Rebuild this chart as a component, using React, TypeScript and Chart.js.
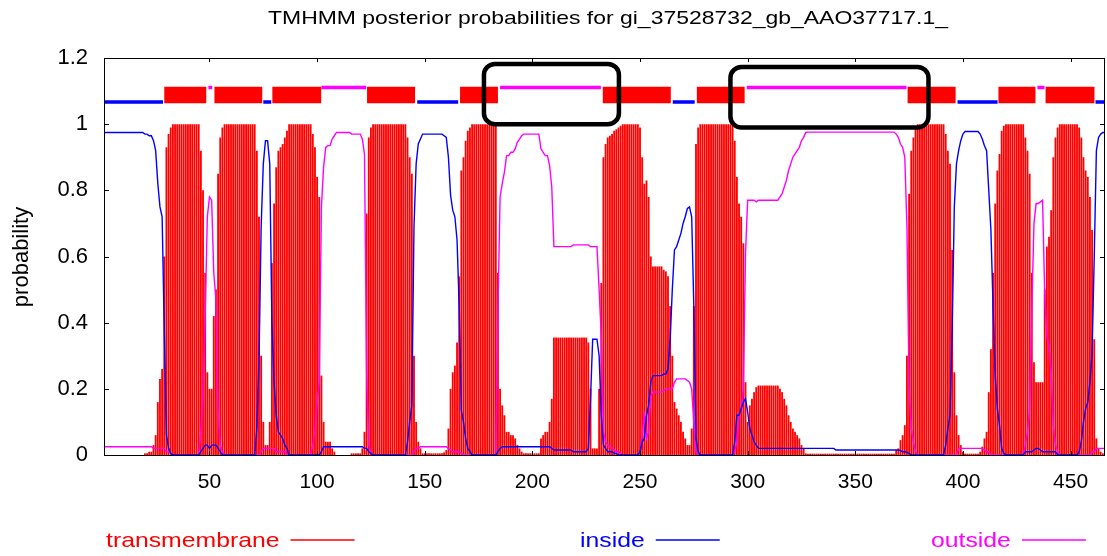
import React, { useEffect, useRef } from "react";
import { Chart, registerables } from "chart.js";

Chart.register(...registerables);

const TITLE = "TMHMM posterior probabilities for gi_37528732_gb_AAO37717.1_";
const Y_LABEL = "probability";
const SEQ_START = 1;
const SEQ_END = 466;

// posterior probability per residue (1..466)
const transmembrane = [
  0, 0, 0, 0, 0, 0, 0, 0, 0, 0, 0, 0, 0, 0, 0, 0, 0, 0, 0,
  0.005, 0.005, 0.01, 0.01, 0.03, 0.06, 0.16, 0.23, 0.26, 0.6, 0.93, 0.97, 0.99,
  1, 1, 1, 1, 1, 1, 1, 1, 1, 1, 1, 1, 1,
  0.92, 0.8, 0.55, 0.25, 0.2, 0.2, 0.42, 0.5, 0.85, 0.96, 0.99,
  1, 1, 1, 1, 1, 1, 1, 1, 1, 1, 1, 1, 1, 1, 1,
  0.92, 0.72, 0.3, 0.1, 0.03, 0.03, 0.1, 0.58, 0.76, 0.87, 0.92, 0.93, 0.94, 0.96, 0.98, 1,
  1, 1, 1, 1, 1, 1, 1, 1, 1, 1,
  0.97, 0.93, 0.84, 0.78, 0.24, 0.1, 0.04, 0.04, 0.04, 0.02, 0.01,
  0, 0, 0, 0, 0, 0, 0,
  0.005, 0.005, 0.005, 0.005, 0.005,
  0.02, 0.07, 0.73, 0.96, 0.99,
  1, 1, 1, 1, 1, 1, 1, 1, 1, 1, 1, 1, 1, 1, 1, 1,
  0.96, 0.9, 0.85, 0.3, 0.1, 0.04, 0.02,
  0.005, 0.005, 0.005, 0.005, 0.005, 0.005, 0.005, 0.005, 0.005, 0.005,
  0.008, 0.015, 0.08, 0.2, 0.25, 0.27, 0.34, 0.54, 0.86, 0.9, 0.95, 0.98, 0.99,
  1, 1, 1, 1, 1, 1, 1, 1, 1, 1, 1, 1,
  0.55, 0.2, 0.15, 0.12, 0.07, 0.07, 0.06, 0.06, 0.05, 0.03, 0.02, 0.01,
  0.005, 0.005, 0.005, 0.005, 0.005, 0.005, 0.005, 0.005,
  0.05, 0.06, 0.07, 0.07, 0.1, 0.17,
  0.355, 0.355, 0.355, 0.355, 0.355, 0.355, 0.355, 0.355, 0.355, 0.355, 0.355, 0.355, 0.355, 0.355, 0.355, 0.355,
  0.34, 0.2, 0.02, 0.02, 0.02, 0.2, 0.52, 0.9, 0.94, 0.96, 0.965, 0.97, 0.98, 0.985, 0.99, 0.995,
  1, 1, 1, 1, 1, 1, 1, 1,
  0.99, 0.9, 0.82, 0.83, 0.78, 0.6, 0.57, 0.57, 0.57, 0.57, 0.57, 0.56, 0.555, 0.54, 0.45, 0.3, 0.16, 0.14, 0.12, 0.1, 0.07, 0.05, 0.03, 0.03, 0.08, 0.45, 0.94, 0.99,
  1, 1, 1, 1, 1, 1, 1, 1, 1, 1, 1, 1, 1, 1, 1, 1,
  0.95, 0.84, 0.76, 0.72, 0.64, 0.22, 0.1, 0.15, 0.17, 0.19, 0.205,
  0.21, 0.21, 0.21, 0.21, 0.21, 0.21, 0.21, 0.21, 0.21, 0.21,
  0.2, 0.19, 0.17, 0.15, 0.12, 0.1, 0.08, 0.07, 0.06, 0.05, 0.03, 0.02, 0.005,
  0.004, 0.004, 0.004, 0.004, 0.004, 0.004, 0.004, 0.004, 0.004, 0.004,
  0.004, 0.004, 0.004, 0.004, 0.004, 0.004, 0.004, 0.004, 0.004, 0.004,
  0.004, 0.004, 0.004, 0.004, 0.004, 0.004, 0.004, 0.004, 0.004, 0.004,
  0.004, 0.004, 0.004, 0.004, 0.004, 0.004, 0.004, 0.004, 0.004, 0.004, 0.004,
  0.015, 0.02, 0.045, 0.06, 0.09, 0.3, 0.79, 0.92, 0.96, 0.99,
  1, 1, 1, 1, 1, 1, 1, 1, 1, 1, 1, 1, 1,
  0.97, 0.92, 0.88, 0.62, 0.25, 0.12, 0.06, 0.03, 0.01,
  0.004, 0.004, 0.004, 0.004, 0.004, 0.004, 0.004,
  0.01, 0.025, 0.05, 0.07, 0.19, 0.32, 0.55, 0.76, 0.86, 0.91, 0.98, 0.995,
  1, 1, 1, 1, 1, 1, 1, 1, 1,
  0.96, 0.92, 0.85, 0.55, 0.28, 0.22, 0.22, 0.22, 0.22, 0.5, 0.63, 0.66, 0.74, 0.9, 0.96, 0.99,
  1, 1, 1, 1, 1, 1, 1, 1, 1,
  0.99, 0.96, 0.9, 0.86, 0.84, 0.78, 0.68, 0.35, 0.05, 0.02, 0.01, 0.005, 0.005,
];

const inside = [
  0.975, 0.975, 0.975, 0.975, 0.975, 0.975, 0.975, 0.975, 0.975, 0.975, 0.975, 0.975, 0.975, 0.975, 0.975, 0.975, 0.975, 0.975, 0.975,
  0.97, 0.97, 0.965, 0.965, 0.95, 0.92, 0.82, 0.75, 0.72, 0.38, 0.06, 0.02, 0.005,
  0, 0, 0, 0, 0, 0, 0, 0, 0, 0, 0, 0, 0,
  0.01, 0.02, 0.03, 0.03, 0.02, 0.03, 0.03, 0.03, 0.02, 0.01, 0,
  0, 0, 0, 0, 0, 0, 0, 0, 0, 0, 0, 0, 0, 0, 0,
  0.08, 0.28, 0.69, 0.88, 0.95, 0.95, 0.88, 0.4, 0.22, 0.12, 0.07, 0.06, 0.05, 0.03, 0.02, 0,
  0, 0, 0, 0, 0, 0, 0, 0, 0, 0,
  0, 0, 0, 0, 0.01, 0.025, 0.025, 0.025, 0.025, 0.025, 0.025,
  0.025, 0.025, 0.025, 0.025, 0.025, 0.025, 0.025,
  0.025, 0.025, 0.025, 0.025, 0.025,
  0.025, 0.02, 0.02, 0.01, 0.005,
  0, 0, 0, 0, 0, 0, 0, 0, 0, 0, 0, 0, 0, 0, 0, 0,
  0.04, 0.1, 0.15, 0.69, 0.88, 0.94, 0.955,
  0.97, 0.97, 0.97, 0.97, 0.97, 0.97, 0.97, 0.97, 0.97, 0.97,
  0.965, 0.96, 0.9, 0.785, 0.74, 0.72, 0.65, 0.45, 0.135, 0.1, 0.05, 0.02, 0.01,
  0, 0, 0, 0, 0, 0, 0, 0, 0, 0, 0, 0,
  0.01, 0.02, 0.025, 0.025, 0.025, 0.025, 0.025, 0.025, 0.025, 0.025, 0.025, 0.025,
  0.025, 0.025, 0.025, 0.025, 0.025, 0.025, 0.025, 0.025,
  0.025, 0.025, 0.025, 0.025, 0.025, 0.02,
  0.015, 0.015, 0.015, 0.015, 0.015, 0.015, 0.015, 0.015, 0.015, 0.01, 0.01, 0.01, 0.01, 0.01, 0.01, 0.01,
  0.02, 0.17, 0.35, 0.35, 0.35, 0.3, 0.12, 0.03, 0.02, 0.01, 0.01, 0.01, 0.005, 0.005, 0, 0,
  0, 0, 0, 0, 0, 0, 0, 0,
  0.01, 0.04, 0.05, 0.12, 0.15, 0.22, 0.24, 0.24, 0.24, 0.24, 0.24, 0.245, 0.245, 0.26, 0.35, 0.5, 0.62, 0.63, 0.65, 0.67, 0.7, 0.72, 0.745, 0.75, 0.72, 0.45, 0.05, 0.01,
  0, 0, 0, 0, 0, 0, 0, 0, 0, 0, 0, 0, 0, 0, 0, 0,
  0.04, 0.12, 0.12, 0.14, 0.16, 0.17, 0.13, 0.08, 0.06, 0.04, 0.03,
  0.02, 0.02, 0.02, 0.02, 0.02, 0.02, 0.02, 0.02, 0.02, 0.02,
  0.02, 0.02, 0.02, 0.02, 0.02, 0.02, 0.02, 0.02, 0.02, 0.02, 0.02, 0.02, 0.02,
  0.02, 0.02, 0.02, 0.02, 0.02, 0.02, 0.02, 0.02, 0.02, 0.02,
  0.02, 0.02, 0.02, 0.015, 0.015, 0.015, 0.015, 0.015, 0.015, 0.015,
  0.015, 0.015, 0.015, 0.015, 0.015, 0.015, 0.015, 0.015, 0.015, 0.015,
  0.015, 0.015, 0.015, 0.015, 0.015, 0.015, 0.015, 0.015, 0.015, 0.015, 0.015,
  0.015, 0.015, 0.013, 0.01, 0.01, 0.008, 0.005, 0, 0, 0,
  0, 0, 0, 0, 0, 0, 0, 0, 0, 0, 0, 0, 0,
  0.03, 0.08, 0.12, 0.38, 0.75, 0.88, 0.92, 0.95, 0.97,
  0.978, 0.978, 0.978, 0.978, 0.978, 0.978, 0.978,
  0.97, 0.955, 0.935, 0.92, 0.8, 0.68, 0.45, 0.24, 0.14, 0.09, 0.02, 0.005,
  0, 0, 0, 0, 0, 0, 0, 0, 0,
  0.01, 0.01, 0.01, 0.01, 0.015, 0.02, 0.02, 0.015, 0.01, 0.01, 0.01, 0.01, 0.01, 0.01, 0.01, 0,
  0, 0, 0, 0, 0, 0, 0, 0, 0,
  0.01, 0.04, 0.1, 0.14, 0.16, 0.22, 0.31, 0.6, 0.92, 0.96, 0.97, 0.975, 0.975,
];

const outside = [
  0.025, 0.025, 0.025, 0.025, 0.025, 0.025, 0.025, 0.025, 0.025, 0.025, 0.025, 0.025, 0.025, 0.025, 0.025, 0.025, 0.025, 0.025, 0.025,
  0.025, 0.025, 0.025, 0.025, 0.02, 0.02, 0.02, 0.02, 0.02, 0.02, 0.01, 0.01, 0.005,
  0, 0, 0, 0, 0, 0, 0, 0, 0, 0, 0, 0, 0,
  0.07, 0.18, 0.42, 0.72, 0.78, 0.77, 0.55, 0.47, 0.13, 0.03, 0.01,
  0, 0, 0, 0, 0, 0, 0, 0, 0, 0, 0, 0, 0, 0, 0,
  0, 0, 0.01, 0.02, 0.02, 0.02, 0.02, 0.02, 0.02, 0.01, 0.01, 0.01, 0.01, 0.01, 0, 0,
  0, 0, 0, 0, 0, 0, 0, 0, 0, 0,
  0.03, 0.07, 0.16, 0.22, 0.75, 0.87, 0.93, 0.935, 0.935, 0.955, 0.965,
  0.975, 0.975, 0.975, 0.975, 0.975, 0.975, 0.975,
  0.97, 0.97, 0.97, 0.97, 0.97,
  0.955, 0.91, 0.25, 0.03, 0.005,
  0, 0, 0, 0, 0, 0, 0, 0, 0, 0, 0, 0, 0, 0, 0, 0,
  0, 0, 0, 0.01, 0.02, 0.02, 0.025,
  0.025, 0.025, 0.025, 0.025, 0.025, 0.025, 0.025, 0.025, 0.025, 0.025,
  0.025, 0.025, 0.02, 0.015, 0.01, 0.01, 0.01, 0.01, 0.005, 0, 0, 0, 0,
  0, 0, 0, 0, 0, 0, 0, 0, 0, 0, 0, 0,
  0.44, 0.78, 0.82, 0.855, 0.905, 0.905, 0.915, 0.915, 0.925, 0.945, 0.955, 0.965,
  0.97, 0.97, 0.97, 0.97, 0.97, 0.97, 0.97, 0.97,
  0.925, 0.915, 0.905, 0.905, 0.875, 0.81,
  0.63, 0.63, 0.63, 0.63, 0.63, 0.63, 0.63, 0.63, 0.63, 0.635, 0.635, 0.635, 0.635, 0.635, 0.635, 0.635,
  0.635, 0.63, 0.63, 0.63, 0.63, 0.5, 0.36, 0.07, 0.04, 0.03, 0.025, 0.02, 0.015, 0.01, 0.01, 0.005,
  0, 0, 0, 0, 0, 0, 0, 0,
  0, 0.06, 0.13, 0.05, 0.07, 0.18, 0.19, 0.19, 0.19, 0.19, 0.19, 0.195, 0.2, 0.2, 0.2, 0.2, 0.22, 0.23, 0.23, 0.23, 0.23, 0.23, 0.225, 0.22, 0.2, 0.1, 0.01, 0,
  0, 0, 0, 0, 0, 0, 0, 0, 0, 0, 0, 0, 0, 0, 0, 0,
  0.01, 0.04, 0.12, 0.14, 0.2, 0.61, 0.77, 0.77, 0.77, 0.77, 0.765,
  0.77, 0.77, 0.77, 0.77, 0.77, 0.77, 0.77, 0.77, 0.77, 0.77,
  0.78, 0.79, 0.81, 0.83, 0.86, 0.88, 0.9, 0.91, 0.92, 0.93, 0.95, 0.96, 0.975,
  0.976, 0.976, 0.976, 0.976, 0.976, 0.976, 0.976, 0.976, 0.976, 0.976,
  0.976, 0.976, 0.976, 0.976, 0.976, 0.976, 0.976, 0.976, 0.976, 0.976,
  0.976, 0.976, 0.976, 0.976, 0.976, 0.976, 0.976, 0.976, 0.976, 0.976,
  0.976, 0.976, 0.976, 0.976, 0.976, 0.976, 0.976, 0.976, 0.976, 0.976, 0.976,
  0.97, 0.96, 0.94, 0.93, 0.9, 0.69, 0.2, 0.08, 0.04, 0.01,
  0, 0, 0, 0, 0, 0, 0, 0, 0, 0, 0, 0, 0,
  0, 0, 0, 0, 0, 0, 0.02, 0.02, 0.02,
  0.02, 0.02, 0.02, 0.02, 0.02, 0.02, 0.02,
  0.02, 0.02, 0.015, 0.01, 0.01, 0, 0, 0, 0, 0, 0, 0,
  0, 0, 0, 0, 0, 0, 0, 0, 0,
  0.03, 0.07, 0.14, 0.44, 0.7, 0.76, 0.76, 0.765, 0.77, 0.49, 0.36, 0.33, 0.25, 0.09, 0.03, 0.01,
  0, 0, 0, 0, 0, 0, 0, 0, 0,
  0, 0, 0, 0, 0, 0, 0.01, 0.01, 0.02, 0.02, 0.02, 0.02, 0.02,
];

// predicted topology segments [start, end] (residues)
const insideSegments = [[1, 28.4], [75, 78.7], [146.5, 165.5], [265.2, 275.4], [397.5, 416.1], [461.6, 466]];
const tmSegments = [[29, 48.5], [52.3, 74.5], [79.2, 101.9], [123.2, 145.5], [166.4, 184], [232.7, 264.3], [276.4, 298.6], [374.3, 396.6], [416.5, 433.7], [438.4, 461.1]];
const outsideSegments = [[49.5, 51.3], [102, 122.8], [185, 231.8], [299.6, 373.8], [434.6, 437.9]];

const xTickValues = [50, 100, 150, 200, 250, 300, 350, 400, 450];
const yTickValues = [0, 0.2, 0.4, 0.6, 0.8, 1, 1.2];

// highlight boxes [xStart, xEnd, yBottom, yTop] in data units
const highlightBoxes = [[177.5, 240.2, 1.0, 1.182], [292, 384, 0.99, 1.173]];

const legendLabels = ["transmembrane", "inside", "outside"];

const RED = "#ff0000";
const BLUE = "#0000ff";
const MAGENTA = "#ff00ff";
const FONT = "'Liberation Sans', Arial, sans-serif";

function segmentPoints(segs: number[][], level: number) {
  const pts: any[] = [];
  segs.forEach(([a, b]) => {
    pts.push({ x: a, y: level }, { x: b, y: level }, { x: b, y: null });
  });
  return pts;
}

function stretchedText(ctx: any, text: string, x: number, y: number, targetWidth: number, align: "left" | "center") {
  const w = ctx.measureText(text).width;
  const sx = targetWidth / w;
  ctx.save();
  ctx.translate(x, y);
  ctx.scale(sx, 1);
  ctx.textAlign = align;
  ctx.fillText(text, 0, 0);
  ctx.restore();
  return targetWidth;
}

const decorPlugin = {
  id: "decor",
  afterDatasetsDraw(chart: any) {
    const { ctx, scales } = chart;
    const xs = scales.x;
    const ys = scales.y;
    ctx.save();
    ctx.strokeStyle = "#000";
    ctx.lineWidth = 4.5;
    highlightBoxes.forEach(([x0, x1, y0, y1]) => {
      const l = xs.getPixelForValue(x0);
      const r = xs.getPixelForValue(x1);
      const t = ys.getPixelForValue(y1);
      const b = ys.getPixelForValue(y0);
      ctx.beginPath();
      ctx.roundRect(l, t, r - l, b - t, 11);
      ctx.stroke();
    });
    ctx.restore();
  },
  afterDraw(chart: any) {
    const { ctx, chartArea, scales } = chart;
    const xs = scales.x;
    const ys = scales.y;
    const { left, right, top, bottom } = chartArea;
    ctx.save();
    ctx.strokeStyle = "#000";
    ctx.lineWidth = 1;
    ctx.strokeRect(Math.round(left) + 0.5, Math.round(top) + 0.5, Math.round(right - left) - 1, Math.round(bottom - top));
    ctx.beginPath();
    yTickValues.forEach((v) => {
      const y = Math.round(ys.getPixelForValue(v)) + 0.5;
      ctx.moveTo(left, y); ctx.lineTo(left + 5, y);
      ctx.moveTo(right, y); ctx.lineTo(right - 5, y);
    });
    xTickValues.forEach((v) => {
      const x = Math.round(xs.getPixelForValue(v)) + 0.5;
      ctx.moveTo(x, bottom); ctx.lineTo(x, bottom - 4);
      ctx.moveTo(x, top); ctx.lineTo(x, top + 4);
    });
    ctx.stroke();
    // title
    ctx.fillStyle = "#000";
    ctx.font = `19px ${FONT}`;
    ctx.textBaseline = "middle";
    stretchedText(ctx, TITLE, 608, 19, 680, "center");
    // y label
    ctx.save();
    ctx.translate(22, 257);
    ctx.rotate(-Math.PI / 2);
    ctx.font = `22px ${FONT}`;
    ctx.textAlign = "center";
    ctx.fillText(Y_LABEL, 0, 0);
    ctx.restore();
    // legend
    const colors = [RED, BLUE, MAGENTA];
    const starts = [106, 580, 931];
    ctx.font = `21px ${FONT}`;
    legendLabels.forEach((lab, i) => {
      ctx.fillStyle = colors[i];
      const w = ctx.measureText(lab).width * 1.18;
      stretchedText(ctx, lab, starts[i], 541, w, "left");
      ctx.strokeStyle = colors[i];
      ctx.lineWidth = 1.5;
      ctx.beginPath();
      ctx.moveTo(starts[i] + w + 11, 540);
      ctx.lineTo(starts[i] + w + 75, 540);
      ctx.stroke();
    });
    ctx.restore();
  },
};

export default function App() {
  const ref = useRef<HTMLCanvasElement | null>(null);
  useEffect(() => {
    if (!ref.current) return;
    const tmData = transmembrane.map((v, i) => ({ x: SEQ_START + i, y: v }));
    const inData = inside.map((v, i) => ({ x: SEQ_START + i, y: v }));
    const outData = outside.map((v, i) => ({ x: SEQ_START + i, y: v }));
    const chart = new Chart(ref.current, {
      type: "bar",
      data: {
        datasets: [
          { type: "line", label: "inside", data: inData, borderColor: BLUE, borderWidth: 1.4, pointRadius: 0, tension: 0, order: 0 } as any,
          { type: "line", label: "outside", data: outData, borderColor: MAGENTA, borderWidth: 1.4, pointRadius: 0, tension: 0, order: 1 } as any,
          { type: "bar", label: "transmembrane", data: tmData, backgroundColor: RED, barPercentage: 0.86, categoryPercentage: 1, grouped: false, order: 2 } as any,
          { type: "line", label: "tmTop", data: segmentPoints(tmSegments, 1.088), borderColor: RED, borderWidth: 16.5, borderCapStyle: "butt", pointRadius: 0, spanGaps: false, order: 3 } as any,
          { type: "line", label: "inTop", data: segmentPoints(insideSegments, 1.067), borderColor: BLUE, borderWidth: 3.5, borderCapStyle: "butt", pointRadius: 0, spanGaps: false, order: 3 } as any,
          { type: "line", label: "outTop", data: segmentPoints(outsideSegments, 1.111), borderColor: MAGENTA, borderWidth: 3.5, borderCapStyle: "butt", pointRadius: 0, spanGaps: false, order: 3 } as any,
        ],
      },
      options: {
        responsive: false,
        animation: false,
        devicePixelRatio: 1,
        layout: { padding: { top: 58, right: 2, left: 0, bottom: 0 } },
        plugins: { legend: { display: false }, title: { display: false }, tooltip: { enabled: false } },
        scales: {
          x: {
            type: "linear",
            min: SEQ_START,
            max: SEQ_END,
            offset: false,
            grid: { display: false },
            border: { display: false },
            afterBuildTicks: (s: any) => { s.ticks = xTickValues.map((v) => ({ value: v })); },
            afterFit: (s: any) => { s.height = 101; },
            ticks: { color: "#000", font: { family: FONT, size: 21 }, padding: 7, maxRotation: 0, autoSkip: false },
          },
          y: {
            type: "linear",
            min: 0,
            max: 1.2,
            grid: { display: false },
            border: { display: false },
            afterBuildTicks: (s: any) => { s.ticks = yTickValues.map((v) => ({ value: v })); },
            afterFit: (s: any) => { s.width = 104; },
            ticks: {
              color: "#000",
              font: { family: FONT, size: 22 },
              padding: 8,
              autoSkip: false,
              callback: (v: any) => String(Math.round(Number(v) * 10) / 10),
            },
          },
        },
      } as any,
      plugins: [decorPlugin],
    });
    return () => chart.destroy();
  }, []);
  return (
    <canvas
      ref={ref}
      width={1107}
      height={556}
      style={{ position: "fixed", left: 0, top: 0, width: "1107px", height: "556px", background: "#fff" }}
    />
  );
}
